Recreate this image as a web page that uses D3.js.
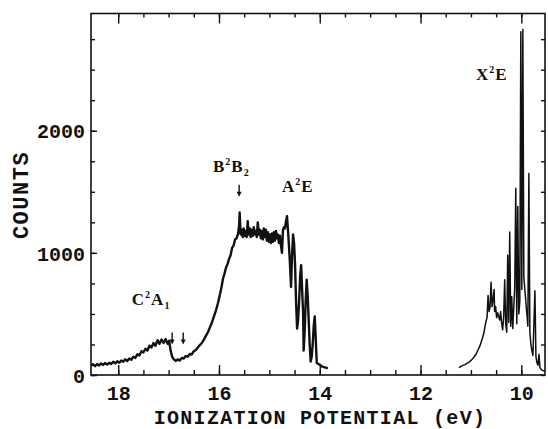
<!DOCTYPE html>
<html>
<head>
<meta charset="utf-8">
<script src="https://cdn.jsdelivr.net/npm/d3@7"></script>
<style>
  body { margin: 0; background: #fff; }
  svg { display: block; }
  .tick text, .axis-title { font-family: 'Liberation Mono', monospace; font-weight: bold; fill: #111; }
  .note { font-family: 'Liberation Serif', serif; font-weight: bold; fill: #111; }
</style>
</head>
<body>
<div id="chart"></div>
<script>
// photoelectron spectrum, ionization potential (eV) vs counts
// [eV, counts]
const bandC = [
  [18.54, 75], [18.50, 88], [18.46, 72], [18.42, 90], [18.38, 78], [18.34, 95], [18.30, 82],
  [18.26, 98], [18.22, 85], [18.18, 100], [18.14, 90], [18.10, 108], [18.06, 95], [18.02, 112],
  [17.98, 100], [17.94, 118], [17.90, 108], [17.86, 128], [17.82, 115], [17.78, 135], [17.74, 125],
  [17.70, 150], [17.66, 140], [17.62, 170], [17.58, 160], [17.54, 195], [17.50, 185], [17.46, 215],
  [17.42, 200], [17.38, 240], [17.34, 225], [17.30, 262], [17.26, 240], [17.22, 285], [17.18, 255],
  [17.14, 290], [17.10, 262], [17.06, 295], [17.02, 255], [16.99, 280], [16.96, 200], [16.93, 150],
  [16.90, 130], [16.86, 115], [16.82, 128], [16.78, 118], [16.74, 140], [16.70, 135], [16.66, 155],
  [16.62, 150], [16.58, 172], [16.54, 168], [16.50, 195], [16.46, 205], [16.42, 225], [16.38, 245],
  [16.34, 262], [16.30, 290], [16.26, 320], [16.22, 350], [16.18, 390], [16.14, 430], [16.10, 480],
  [16.06, 530], [16.02, 590], [15.98, 660]
]

const bandBA = [
  [15.98, 660], [15.95, 720], [15.92, 790], [15.89, 830], [15.86, 880], [15.83, 910], [15.80, 950],
  [15.77, 980], [15.74, 1040], [15.71, 1060], [15.68, 1110], [15.65, 1120], [15.62, 1160], [15.60, 1230],
  [15.59, 1330], [15.57, 1150], [15.55, 1190], [15.53, 1130], [15.51, 1200], [15.49, 1140], [15.47, 1180],
  [15.45, 1130], [15.43, 1260], [15.41, 1150], [15.39, 1200], [15.37, 1130], [15.35, 1190], [15.33, 1140],
  [15.31, 1210], [15.29, 1150], [15.27, 1180], [15.25, 1130], [15.23, 1250], [15.21, 1150], [15.19, 1190],
  [15.17, 1120], [15.15, 1180], [15.13, 1110], [15.11, 1200], [15.09, 1130], [15.07, 1190], [15.05, 1100],
  [15.03, 1170], [15.01, 1090], [14.99, 1150], [14.97, 1080], [14.95, 1160], [14.93, 1090], [14.91, 1170],
  [14.89, 1100], [14.87, 1180], [14.85, 1120], [14.83, 1150], [14.81, 1080], [14.79, 1140], [14.77, 1060],
  [14.75, 1000], [14.73, 1190], [14.71, 1210], [14.69, 1200], [14.67, 1260], [14.65, 1300], [14.63, 1180],
  [14.61, 1050], [14.59, 900], [14.57, 720], [14.55, 980], [14.53, 1150], [14.51, 1080], [14.49, 900],
  [14.47, 600], [14.45, 380], [14.43, 450], [14.41, 600], [14.39, 800], [14.37, 900], [14.35, 700],
  [14.33, 500], [14.32, 200], [14.30, 350], [14.28, 600], [14.26, 780], [14.24, 650], [14.22, 450],
  [14.20, 250], [14.18, 110], [14.16, 150], [14.14, 250], [14.12, 400], [14.10, 480], [14.08, 300],
  [14.06, 100], [14.03, 90], [14.00, 85], [13.96, 70], [13.92, 65], [13.88, 60], [13.84, 55]
]

const bandX = [
  [11.24, 60], [11.18, 75], [11.12, 85], [11.08, 95], [11.02, 110], [10.96, 135], [10.90, 170],
  [10.86, 205], [10.82, 240], [10.78, 290], [10.74, 350], [10.72, 400], [10.70, 440], [10.68, 470],
  [10.66, 650], [10.64, 520], [10.62, 560], [10.60, 760], [10.58, 560], [10.56, 620], [10.54, 700],
  [10.53, 520], [10.51, 560], [10.49, 470], [10.47, 510], [10.43, 450], [10.41, 520], [10.39, 420],
  [10.37, 370], [10.35, 480], [10.33, 780], [10.31, 420], [10.29, 350], [10.27, 980], [10.25, 430],
  [10.23, 1170], [10.21, 400], [10.19, 640], [10.17, 380], [10.13, 720], [10.11, 1530], [10.09, 420],
  [10.07, 1380], [10.05, 500], [10.03, 600], [10.01, 2810], [9.99, 700], [9.97, 2830], [9.95, 800],
  [9.91, 600], [9.87, 400], [9.85, 1650], [9.83, 350], [9.81, 250], [9.79, 200], [9.77, 160],
  [9.73, 690], [9.71, 150], [9.69, 100], [9.67, 80], [9.65, 170], [9.63, 60], [9.59, 40], [9.53, 30]
]

const xMajor = [18, 16, 14, 12, 10]
const xMinor = d3.range(10, 18.01, 0.5)
const yMajor = [0, 1000, 2000]
const yMinor = d3.range(0, 2751, 250)

// band labels: [letter, superscript, second letter, subscript, eV, counts]
const notes = [
  ['C', '2', 'A', '1', 17.73, 574],
  ['B', '2', 'B', '2', 16.12, 1664],
  ['A', '2', 'E', '', 14.75, 1500],
  ['X', '2', 'E', '', 10.90, 2418]
]
// arrow tips [eV, counts]
const arrows = [[16.93, 250], [16.71, 250], [15.60, 1460]]

const width = 548
const height = 429
const margin = { top: 13.5, right: 3, bottom: 54, left: 91 }

const x = d3.scaleLinear().domain([18.54, 9.53]).range([margin.left, width - margin.right])
const y = d3.scaleLinear().domain([0, 2960]).range([height - margin.bottom, margin.top])

const svg = d3.select('#chart').append('svg').attr('width', width).attr('height', height)

svg.append('clipPath').attr('id', 'clip')
  .append('rect')
  .attr('x', margin.left).attr('y', margin.top)
  .attr('width', width - margin.left - margin.right)
  .attr('height', height - margin.top - margin.bottom)

const line = d3.line().x(d => x(d[0])).y(d => y(d[1]))

// noisy bands are drawn a bit heavier, the sharp X band thinner
svg.append('g').attr('clip-path', 'url(#clip)')
  .selectAll('path')
  .data([bandC, bandBA, bandX])
  .enter()
  .append('path')
  .attr('d', line)
  .attr('fill', 'none')
  .attr('stroke', '#111')
  .attr('stroke-width', (_, i) => (i === 2 ? 1.5 : 2.4))
  .attr('stroke-linejoin', 'round')

// axes: ticks point inwards on all four sides
const bottom = height - margin.bottom
const right = width - margin.right

const drawAxis = (axis, transform, size, values, labels, pad) => {
  const g = svg.append('g').attr('transform', transform)
    .call(axis.tickValues(values).tickSize(-size).tickPadding(pad)
      .tickFormat(labels ? d3.format('d') : ''))
  g.select('.domain').remove()
  g.selectAll('.tick line').attr('stroke', '#111').attr('stroke-width', 1.4)
  return g
}

drawAxis(d3.axisBottom(x), `translate(0,${bottom})`, 5, xMinor, false, 0)
drawAxis(d3.axisBottom(x), `translate(0,${bottom})`, 10, xMajor, true, 11)
  .selectAll('text').attr('font-size', 20)
drawAxis(d3.axisTop(x), `translate(0,${margin.top})`, 4, xMinor, false, 0)
drawAxis(d3.axisTop(x), `translate(0,${margin.top})`, 10, xMajor, false, 0)
drawAxis(d3.axisLeft(y), `translate(${margin.left},0)`, 4, yMinor, false, 0)
drawAxis(d3.axisLeft(y), `translate(${margin.left},0)`, 6, yMajor, true, 6)
  .selectAll('text').attr('font-size', 20).attr('dy', '0.36em')
drawAxis(d3.axisRight(y), `translate(${right},0)`, 4, yMinor, false, 0)

svg.append('rect')
  .attr('x', margin.left).attr('y', margin.top)
  .attr('width', right - margin.left).attr('height', bottom - margin.top)
  .attr('fill', 'none').attr('stroke', '#111').attr('stroke-width', 1.6)

svg.append('text')
  .attr('class', 'axis-title')
  .attr('x', 320).attr('y', 424)
  .attr('text-anchor', 'middle')
  .attr('font-size', 20)
  .attr('letter-spacing', 1.3)
  .text('IONIZATION POTENTIAL (eV)')

svg.append('text')
  .attr('class', 'axis-title')
  .attr('transform', 'translate(28,195) rotate(-90)')
  .attr('text-anchor', 'middle')
  .attr('font-size', 22)
  .attr('letter-spacing', 1.5)
  .text('COUNTS')

const note = svg.selectAll('.note')
  .data(notes)
  .enter()
  .append('text')
  .attr('class', 'note')
  .attr('x', d => x(d[4]))
  .attr('y', d => y(d[5]))
  .attr('font-size', 17)

note.append('tspan').text(d => d[0])
note.append('tspan').attr('font-size', 10).attr('dx', 1).attr('dy', -7).text(d => d[1])
note.append('tspan').attr('dx', 1).attr('dy', 7).text(d => d[2])
note.append('tspan').attr('font-size', 10).attr('dx', 1).attr('dy', 4).text(d => d[3])

const arrow = svg.selectAll('.arrow')
  .data(arrows)
  .enter()
  .append('g')
  .attr('transform', d => `translate(${x(d[0])},${y(d[1])})`)

arrow.append('line')
  .attr('y1', -12).attr('y2', -3)
  .attr('stroke', '#111').attr('stroke-width', 1.4)
arrow.append('path')
  .attr('d', 'M-2.5,-5L2.5,-5L0,0Z')
  .attr('fill', '#111')
</script>
</body>
</html>
